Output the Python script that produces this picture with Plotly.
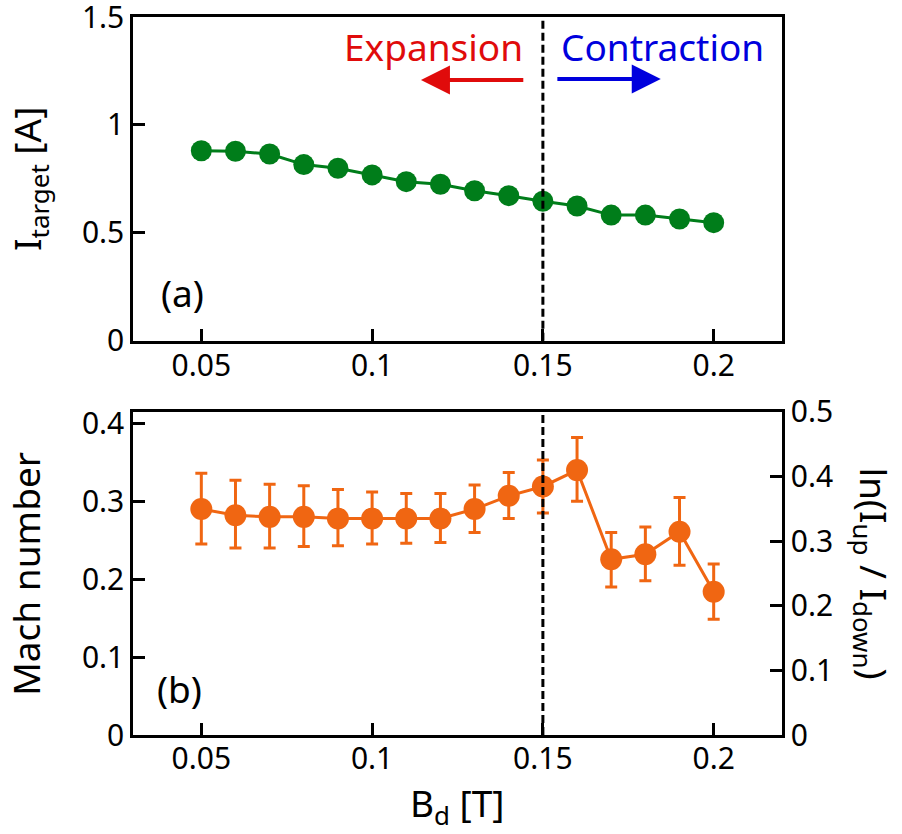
import plotly.graph_objects as go

# ---- data ----
B_d = [0.05, 0.06, 0.07, 0.08, 0.09, 0.10, 0.11, 0.12, 0.13, 0.14, 0.15, 0.16, 0.17, 0.18, 0.19, 0.20]
I_target = [0.880, 0.878, 0.865, 0.816, 0.799, 0.768, 0.737, 0.725, 0.695, 0.672, 0.646, 0.624, 0.582, 0.582, 0.564, 0.547]
mach = [0.290, 0.282, 0.280, 0.280, 0.278, 0.278, 0.278, 0.278, 0.290, 0.307, 0.319, 0.340, 0.2255, 0.232, 0.261, 0.184]
mach_hi = [0.336, 0.327, 0.322, 0.320, 0.315, 0.312, 0.310, 0.310, 0.321, 0.337, 0.353, 0.382, 0.260, 0.267, 0.305, 0.2195]
mach_lo = [0.245, 0.240, 0.240, 0.242, 0.243, 0.245, 0.246, 0.247, 0.260, 0.278, 0.285, 0.300, 0.190, 0.198, 0.218, 0.1485]

x_ticks = [0.05, 0.1, 0.15, 0.2]
x_ticklabels = ["0.05", "0.1", "0.15", "0.2"]
ya_ticks = [0, 0.5, 1, 1.5]
ya_ticklabels = ["0", "0.5", "1", "1.5"]
yb_ticks = [0, 0.1, 0.2, 0.3, 0.4]
yb_ticklabels = ["0", "0.1", "0.2", "0.3", "0.4"]
yr_ticks = [0, 0.1, 0.2, 0.3, 0.4, 0.5]
yr_ticklabels = ["0", "0.1", "0.2", "0.3", "0.4", "0.5"]
B_boundary = 0.15

GREEN = "#007D1A"
ORANGE = "#F06612"
RED = "#E00B0B"
BLUE = "#0000DD"
FONT = "Noto Sans"
TICK_SIZE = 30
LABEL_SIZE = 37

err_plus = [h - m for h, m in zip(mach_hi, mach)]
err_minus = [m - l for m, l in zip(mach, mach_lo)]

fig = go.Figure()
fig.add_trace(go.Scatter(x=B_d, y=I_target, mode="lines+markers",
                         line=dict(color=GREEN, width=3),
                         marker=dict(color=GREEN, size=21),
                         xaxis="x", yaxis="y", showlegend=False))
fig.add_trace(go.Scatter(x=B_d, y=mach, mode="lines+markers",
                         line=dict(color=ORANGE, width=3),
                         marker=dict(color=ORANGE, size=22),
                         error_y=dict(type="data", symmetric=False, array=err_plus,
                                      arrayminus=err_minus, color=ORANGE,
                                      thickness=3, width=6),
                         xaxis="x2", yaxis="y2", showlegend=False))
fig.add_trace(go.Scatter(x=[], y=[], xaxis="x2", yaxis="y3", showlegend=False))

axis_common = dict(showline=True, linecolor="black", linewidth=2.5,
                   ticks="inside", ticklen=12, tickwidth=2.5, tickcolor="black",
                   showgrid=False, zeroline=False, automargin=False,
                   ticklabeloverflow="allow",
                   tickfont=dict(family=FONT, size=TICK_SIZE, color="black"))

fig.update_layout(
    width=902, height=834,
    margin=dict(l=133, r=120, t=17, b=99),
    plot_bgcolor="white", paper_bgcolor="white",
    font=dict(family=FONT, color="black"),
    xaxis=dict(domain=[0, 1], anchor="y", range=[0.03, 0.22], mirror=True,
               ticklabelstandoff=-3,
               tickvals=x_ticks, ticktext=x_ticklabels, **axis_common),
    yaxis=dict(domain=[0.5492, 1], anchor="x", range=[0, 1.5], mirror=True,
               tickvals=ya_ticks, ticktext=ya_ticklabels, **axis_common),
    xaxis2=dict(domain=[0, 1], anchor="y2", range=[0.03, 0.22], mirror=True,
                ticklabelstandoff=-5,
                tickvals=x_ticks, ticktext=x_ticklabels, **axis_common),
    yaxis2=dict(domain=[0, 0.4503], anchor="x2", range=[0, 0.415],
                tickvals=yb_ticks, ticktext=yb_ticklabels, **axis_common),
    yaxis3=dict(anchor="x2", overlaying="y2", side="right", range=[0, 0.5],
                tickvals=yr_ticks, ticktext=yr_ticklabels, **axis_common),
)

# dashed boundary lines
for yref in ["y domain", "y2 domain"]:
    xr = "x" if yref == "y domain" else "x2"
    fig.add_shape(type="line", xref=xr, yref=yref, x0=B_boundary, x1=B_boundary,
                  y0=0, y1=1, line=dict(color="black", width=3, dash="8px,4px"))

ann = []
# arrows
ann.append(dict(xref="x", yref="y", axref="x", ayref="y", x=0.1143, y=1.208,
                ax=0.1447, ay=1.208, showarrow=True, arrowhead=2, arrowsize=1.45,
                arrowwidth=4, arrowcolor=RED, text=""))
ann.append(dict(xref="x", yref="y", axref="x", ayref="y", x=0.1845, y=1.2127,
                ax=0.1538, ay=1.2127, showarrow=True, arrowhead=2, arrowsize=1.45,
                arrowwidth=4, arrowcolor=BLUE, text=""))
ann.append(dict(xref="x", yref="y", x=0.1447, y=1.361, xanchor="right", yanchor="middle",
                text="Expansion", showarrow=False,
                font=dict(family=FONT, size=LABEL_SIZE, color=RED)))
ann.append(dict(xref="x", yref="y", x=0.1547, y=1.361, xanchor="left", yanchor="middle",
                text="Contraction", showarrow=False,
                font=dict(family=FONT, size=LABEL_SIZE, color=BLUE)))
ann.append(dict(xref="x", yref="y", x=0.0375, y=0.221, xanchor="left", yanchor="middle",
                text="(a)", showarrow=False,
                font=dict(family=FONT, size=LABEL_SIZE, color="black")))
ann.append(dict(xref="x2", yref="y2", x=0.0365, y=0.060, xanchor="left", yanchor="middle",
                text="(b)", showarrow=False,
                font=dict(family=FONT, size=LABEL_SIZE, color="black")))
# axis titles
ann.append(dict(xref="paper", yref="paper", x=-0.16, y=0.7746, xanchor="center",
                yanchor="middle", textangle=-90, text="I<sub>target</sub> [A]",
                showarrow=False, font=dict(family=FONT, size=LABEL_SIZE, color="black")))
ann.append(dict(xref="paper", yref="paper", x=-0.166, y=0.225, xanchor="center",
                yanchor="middle", textangle=-90, text="Mach number",
                showarrow=False, font=dict(family=FONT, size=LABEL_SIZE, color="black")))
ann.append(dict(xref="paper", yref="paper", x=1.1387, y=0.225, xanchor="center",
                yanchor="middle", textangle=90, text="ln(I<sub>up</sub> / I<sub>down</sub>)",
                showarrow=False, font=dict(family=FONT, size=LABEL_SIZE, color="black")))
ann.append(dict(xref="paper", yref="paper", x=0.5, y=-0.098, xanchor="center",
                yanchor="middle", text="B<sub>d</sub> [T]",
                showarrow=False, font=dict(family=FONT, size=LABEL_SIZE, color="black")))
fig.update_layout(annotations=ann)

fig.write_html("out.html")
